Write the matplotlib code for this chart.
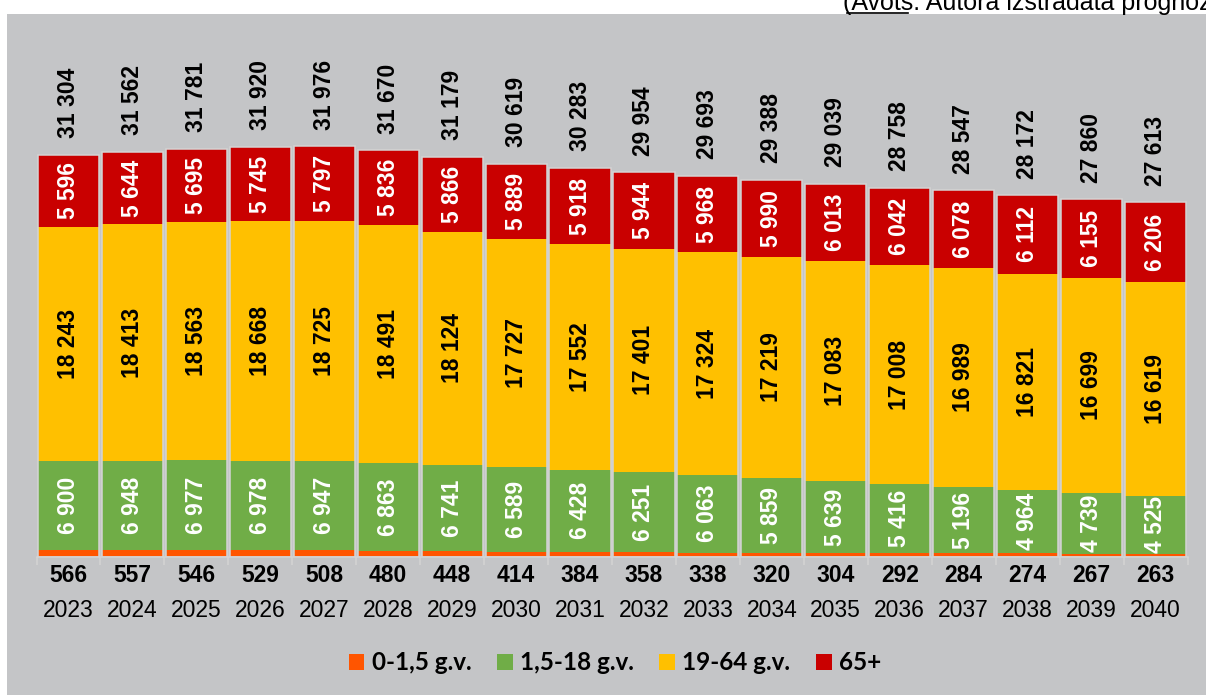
import matplotlib
matplotlib.use("Agg")
import matplotlib.pyplot as plt
import matplotlib.patches as mpatches
from matplotlib.lines import Line2D
from matplotlib.ticker import FixedLocator

plt.rcParams['font.family'] = ['Liberation Sans', 'DejaVu Sans']

# data
years = [2023, 2024, 2025, 2026, 2027, 2028, 2029, 2030, 2031,
         2032, 2033, 2034, 2035, 2036, 2037, 2038, 2039, 2040]
infants = [566, 557, 546, 529, 508, 480, 448, 414, 384,
           358, 338, 320, 304, 292, 284, 274, 267, 263]
children = [6900, 6948, 6977, 6978, 6947, 6863, 6741, 6589, 6428,
            6251, 6063, 5859, 5639, 5416, 5196, 4964, 4739, 4525]
working = [18243, 18413, 18563, 18668, 18725, 18491, 18124, 17727, 17552,
           17401, 17324, 17219, 17083, 17008, 16989, 16821, 16699, 16619]
seniors = [5596, 5644, 5695, 5745, 5797, 5836, 5866, 5889, 5918,
           5944, 5968, 5990, 6013, 6042, 6078, 6112, 6155, 6206]
totals = [31304, 31562, 31781, 31920, 31976, 31670, 31179, 30619, 30283,
          29954, 29693, 29388, 29039, 28758, 28547, 28172, 27860, 27613]

series_labels = ['0-1,5 g.v.', '1,5-18 g.v.', '19-64 g.v.', '65+']
colors = ['#FF5500', '#70AD47', '#FFC000', '#C90000']


def fmt(v):
    return f"{v:,}".replace(',', ' ')


W, H = 1206, 695
fig = plt.figure(figsize=(W / 100, H / 100), dpi=100, facecolor='white')

# grey panel behind the chart
fig.patches.append(mpatches.Rectangle((7 / W, 0), (W - 7) / W, (H - 14) / H,
                                      transform=fig.transFigure,
                                      facecolor='#C4C5C7', edgecolor='none', zorder=-5))

# clipped source note at the very top (cut off in the original too)
fig.text(843 / W, 1 - 10 / H, '(Avots: Autora izstrādāta prognoze',
         fontsize=18, ha='left', va='baseline', color='black')
fig.add_artist(Line2D([847 / W, 908 / W], [1 - 13 / H, 1 - 13 / H],
                      transform=fig.transFigure, color='black', lw=1.2))

ax = fig.add_axes([36.5 / W, (H - 557) / H, 1151 / W, 436.6 / H])
ax.set_facecolor('none')
ax.set_xlim(-0.5, len(years) - 0.5)
ax.set_ylim(0, 34000)

x = list(range(len(years)))
width = 0.955
bottom = [0] * len(years)
for vals, c in zip([infants, children, working, seniors], colors):
    ax.bar(x, vals, width, bottom=bottom, color=c, edgecolor='none', zorder=2)
    bottom = [b + v for b, v in zip(bottom, vals)]

# light outline around each stacked column
ax.bar(x, bottom, width, fill=False, edgecolor='#D4D4D4', linewidth=1.1, zorder=3)

# segment labels
base = infants
for vals, tc in zip([children, working, seniors], ['white', 'black', 'white']):
    for i, v in enumerate(vals):
        ax.text(i, base[i] + v / 2, fmt(v), rotation=90, ha='center', va='center',
                fontsize=16.5, fontweight='bold', color=tc, zorder=4)
    base = [b + v for b, v in zip(base, vals)]

# totals above columns
for i, t in enumerate(totals):
    ax.annotate(fmt(t), xy=(i, bottom[i]), xytext=(0, 12), textcoords='offset points',
                rotation=90, ha='center', va='bottom', fontsize=16.5,
                fontweight='bold', color='black', annotation_clip=False)

# infant values and years below axis
for i, (v, yr) in enumerate(zip(infants, years)):
    ax.annotate(str(v), xy=(i, 0), xycoords=('data', 'axes fraction'),
                xytext=(0, -13), textcoords='offset points', ha='center', va='center',
                fontsize=16.5, fontweight='bold', color='black', annotation_clip=False)
    ax.annotate(str(yr), xy=(i, 0), xycoords=('data', 'axes fraction'),
                xytext=(0, -38.5), textcoords='offset points', ha='center', va='center',
                fontsize=16.5, color='black', annotation_clip=False)

for s in ['top', 'right', 'left']:
    ax.spines[s].set_visible(False)
ax.spines['bottom'].set_color('#D4D4D4')
ax.spines['bottom'].set_linewidth(1.1)
ax.set_yticks([])
ax.set_xticks([])
ax.xaxis.set_minor_locator(FixedLocator([i - 0.5 for i in range(len(years) + 1)]))
ax.tick_params(axis='x', which='minor', length=6, width=1.1, color='#D4D4D4', labelbottom=False)

handles = [mpatches.Patch(facecolor=c, edgecolor='none') for c in colors]
fig.legend(handles, series_labels, loc='center', bbox_to_anchor=(615 / W, 1 - 663 / H),
           ncol=4, frameon=False, prop={'family': 'Lato', 'weight': 'bold', 'size': 17.5},
           handlelength=0.65, handleheight=0.65, handletextpad=0.3, columnspacing=1.05)

fig.savefig('out.png', dpi=100, facecolor='white')
